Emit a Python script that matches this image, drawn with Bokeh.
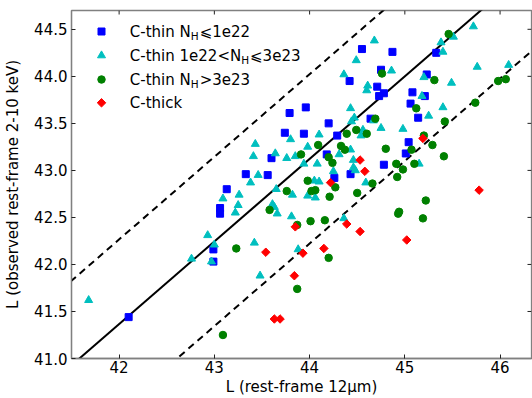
import math
from bokeh.plotting import figure
from bokeh.models import Range1d, FixedTicker, Label
from bokeh.embed import file_html
from bokeh.resources import INLINE

# ---------------- data ----------------
thin_low_x = [42.10, 42.99, 42.99, 43.06, 43.06, 43.13, 43.33, 43.56, 43.60, 43.74, 43.79, 43.96,
              43.94, 44.20, 44.18, 44.29, 44.26, 44.43, 44.42, 44.55, 44.87, 44.75, 44.71, 44.78,
              44.73, 44.64, 44.78, 45.01, 45.04, 45.06, 45.08, 45.14, 45.21, 45.23, 45.33]
thin_low_y = [41.44, 42.16, 42.03, 42.60, 42.54, 42.80, 42.96, 42.95, 43.13, 43.40, 43.61, 43.67,
              43.39, 43.50, 43.17, 43.37, 42.92, 42.96, 43.95, 44.29, 44.26, 44.07, 43.89, 43.82,
              43.79, 43.55, 43.06, 43.18, 43.30, 43.71, 43.83, 43.56, 43.79, 44.02, 44.25]

thin_mid_x = [41.68, 42.76, 42.93, 43.00, 42.97, 43.09, 43.26, 43.25, 43.22, 43.42, 43.48, 43.61,
              43.63, 43.66, 43.81, 43.82, 43.88, 43.43, 43.41, 43.46, 43.38, 43.64, 43.76, 43.80,
              43.85, 43.65, 44.68, 44.49, 44.36, 44.86, 44.61, 44.60, 44.43, 44.47, 44.44, 44.67,
              45.72, 45.38, 45.51, 45.40, 45.76, 46.09, 45.20, 45.49, 45.18, 45.40, 45.25, 44.75,
              44.98, 44.10, 44.54, 44.56, 43.98, 44.43, 44.31, 44.08, 43.94, 44.46, 44.46, 44.48,
              44.25, 44.10, 44.05, 44.59, 45.15, 43.98, 44.06, 44.36]
thin_mid_y = [41.62, 42.06, 42.31, 42.21, 42.03, 42.70, 42.74, 42.63, 42.55, 42.23, 41.88, 42.64,
              42.61, 42.54, 42.51, 42.74, 42.16, 43.28, 43.15, 42.95, 42.87, 43.18, 43.13, 43.33,
              43.15, 42.80, 44.38, 44.17, 44.02, 44.06, 43.90, 43.85, 43.66, 43.56, 43.52, 43.53,
              44.53, 44.36, 44.42, 44.26, 44.10, 44.12, 43.99, 43.93, 43.79, 43.67, 43.58, 43.45,
              43.44, 43.38, 43.37, 43.43, 43.25, 43.22, 43.17, 43.07, 43.07, 43.11, 43.03, 43.00,
              42.99, 42.88, 42.89, 42.87, 43.07, 42.73, 42.71, 42.49]

thin_high_x = [43.09, 43.23, 43.58, 43.76, 43.87, 43.87, 44.20, 44.01, 44.16, 44.21, 44.50, 44.02,
               44.06, 44.94, 44.93, 45.19, 45.22, 44.39, 44.49, 44.60, 44.09, 43.91, 44.33, 44.37,
               44.20, 44.24, 43.98, 44.27, 44.66, 44.80, 44.91, 44.98, 44.92, 45.07, 45.10, 45.46,
               45.31, 45.98, 46.06, 45.74, 45.12, 45.42, 45.29, 45.20, 45.41, 44.76, 44.69]
thin_high_y = [41.25, 42.17, 42.58, 42.78, 42.42, 41.74, 42.07, 42.46, 42.47, 42.72, 42.76, 42.78,
               42.79, 42.56, 42.54, 42.49, 42.68, 43.39, 43.43, 43.39, 43.27, 43.17, 43.26, 43.22,
               43.14, 43.08, 42.89, 42.82, 42.86, 43.23, 43.07, 43.01, 42.93, 43.22, 43.07, 44.45,
               43.96, 43.95, 43.97, 43.72, 43.66, 43.52, 43.27, 43.37, 43.15, 44.03, 43.55]

thick_x = [43.54, 43.85, 43.84, 43.63, 43.69, 43.93, 44.15, 44.39, 44.53, 45.02, 45.78, 44.53,
           44.58, 44.22, 45.19]
thick_y = [42.13, 42.40, 41.88, 41.42, 41.42, 42.12, 42.17, 42.43, 42.35, 42.26, 42.79, 43.11,
           42.99, 42.87, 43.34]

# relation and its scatter band
rel_slope = 0.878
rel_intercept = 4.49
rel_band = 0.9

x_ticks = [42, 43, 44, 45, 46]
x_tick_labels = ["42", "43", "44", "45", "46"]
y_ticks = [41.0, 41.5, 42.0, 42.5, 43.0, 43.5, 44.0, 44.5]
y_tick_labels = ["41.0", "41.5", "42.0", "42.5", "43.0", "43.5", "44.0", "44.5"]

x_label = "L (rest-frame 12μm)"
y_label = "L (observed rest-frame 2-10 keV)"

# ---------------- figure ----------------
X0, X1 = 41.5, 46.33
Y0, Y1 = 41.0, 44.70
FW, FH = 460, 348  # frame size in px

FONT = "DejaVu Sans"
SPINE = "#808080"
TICK = "#222222"

p = figure(width=532, height=398, x_range=Range1d(X0, X1), y_range=Range1d(Y0, Y1),
           output_backend="svg", toolbar_location=None,
           min_border_left=71, min_border_right=1, min_border_top=10, min_border_bottom=40)
p.grid.visible = False
p.background_fill_color = "white"
p.border_fill_color = "white"
p.outline_line_color = SPINE
p.outline_line_width = 1.3

for ax, ticks, labels in ((p.xaxis[0], x_ticks, x_tick_labels), (p.yaxis[0], y_ticks, y_tick_labels)):
    ax.ticker = FixedTicker(ticks=ticks)
    ax.major_label_overrides = {t: l for t, l in zip(ticks, labels)}
    ax.major_tick_in = 4
    ax.major_tick_out = 0
    ax.major_tick_line_color = TICK
    ax.minor_tick_line_color = None
    ax.axis_line_color = SPINE
    ax.axis_line_width = 1.3
    ax.major_label_text_font = FONT
    ax.major_label_text_font_size = "15px"
    ax.major_label_text_color = "black"
    ax.axis_label_text_font = FONT
    ax.axis_label_text_font_size = "15px"
    ax.axis_label_text_font_style = "normal"
    ax.axis_label_text_color = "black"

p.xaxis[0].axis_label = x_label
p.xaxis[0].major_label_standoff = 2
p.xaxis[0].axis_label_standoff = 2
p.yaxis[0].axis_label = y_label
p.yaxis[0].major_label_standoff = 4
p.yaxis[0].axis_label_standoff = 9

# mirrored inward tick marks on top and right edges
tick_len = 4
dy_tick = tick_len / FH * (Y1 - Y0)
dx_tick = tick_len / FW * (X1 - X0)
p.segment(x0=x_ticks, y0=[Y1] * len(x_ticks), x1=x_ticks, y1=[Y1 - dy_tick] * len(x_ticks),
          line_color=TICK, line_width=1)
p.segment(x0=[X1] * len(y_ticks), y0=y_ticks, x1=[X1 - dx_tick] * len(y_ticks), y1=y_ticks,
          line_color=TICK, line_width=1)

# relation lines
lx = [X0 - 0.2, X1 + 0.2]
ly = [rel_slope * v + rel_intercept for v in lx]
p.line(lx, ly, line_color="black", line_width=2)
p.line(lx, [v + rel_band for v in ly], line_color="black", line_width=2, line_dash="7 5")
p.line(lx, [v - rel_band for v in ly], line_color="black", line_width=2, line_dash="7 5")

BLUE, CYAN, GREEN, RED = "#0000ff", "#00bfbf", "#008000", "#ff0000"
styles = [
    dict(marker="square", size=7, color=BLUE, angle=0.0),
    dict(marker="triangle", size=8, color=CYAN, angle=0.0),
    dict(marker="circle", size=7.5, color=GREEN, angle=0.0),
    dict(marker="square", size=6, color=RED, angle=math.pi / 4),
]
series = [(thin_low_x, thin_low_y), (thin_mid_x, thin_mid_y),
          (thin_high_x, thin_high_y), (thick_x, thick_y)]
for (xs, ys), st in zip(series, styles):
    p.scatter(xs, ys, marker=st["marker"], size=st["size"], angle=st["angle"],
              fill_color=st["color"], line_color=st["color"])

# ---------------- legend (manual, for subscripts) ----------------
row_y = [327, 303, 279, 255.7]   # px from frame bottom
mark_x = 30                       # px from frame left
text_x = 58.3
EM = 15.0
SUB = 10.5


def to_data(sx, sy):
    return X0 + sx / FW * (X1 - X0), Y0 + sy / FH * (Y1 - Y0)


for st, ry in zip(styles, row_y):
    dx, dy = to_data(mark_x, ry)
    p.scatter([dx], [dy], marker=st["marker"], size=st["size"], angle=st["angle"],
              fill_color=st["color"], line_color=st["color"])

w_cthinN = 4.063 * EM
w_mid = 7.424 * EM
w_H = 0.752 * SUB + 1

legend_parts = [
    [("C-thin N", 0, EM, 0), ("H", w_cthinN, SUB, -4), ("⩽1e22", w_cthinN + w_H, EM, 0)],
    [("C-thin 1e22<N", 0, EM, 0), ("H", w_mid, SUB, -4), ("⩽3e23", w_mid + w_H, EM, 0)],
    [("C-thin N", 0, EM, 0), ("H", w_cthinN, SUB, -4), (">3e23", w_cthinN + w_H, EM, 0)],
    [("C-thick", 0, EM, 0)],
]
for parts, ry in zip(legend_parts, row_y):
    for txt, off, fs, dy in parts:
        p.add_layout(Label(x=text_x + off, y=ry + dy, x_units="screen", y_units="screen",
                           text=txt, text_font=FONT, text_font_size=f"{fs}px",
                           text_baseline="middle", text_align="left", text_color="black"))

open("out.html", "w").write(file_html(p, INLINE))
